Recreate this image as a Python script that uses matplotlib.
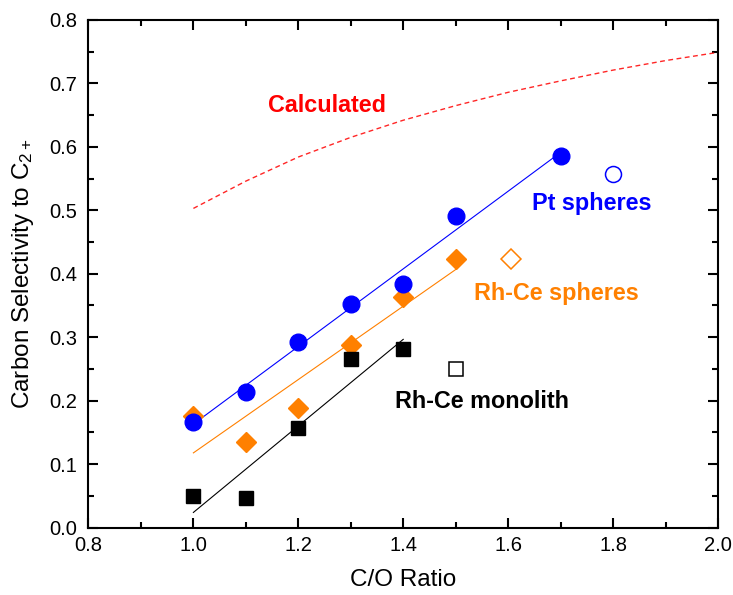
import numpy as np
import matplotlib
matplotlib.use("Agg")
import matplotlib.pyplot as plt
from matplotlib.ticker import MultipleLocator, FormatStrFormatter

plt.rcParams['font.family'] = ['Liberation Sans', 'DejaVu Sans']
plt.rcParams['mathtext.fontset'] = 'custom'
plt.rcParams['mathtext.rm'] = 'Liberation Sans'
plt.rcParams['mathtext.it'] = 'Liberation Sans:italic'

# Measured selectivities
pt_x = [1.0, 1.1, 1.2, 1.3, 1.4, 1.5, 1.7]
pt_y = [0.167, 0.214, 0.293, 0.352, 0.384, 0.491, 0.586]
pt_open_x = [1.80]
pt_open_y = [0.557]

rhce_x = [1.0, 1.1, 1.2, 1.3, 1.4, 1.5]
rhce_y = [0.176, 0.135, 0.188, 0.287, 0.363, 0.424]
rhce_open_x = [1.605]
rhce_open_y = [0.423]

mono_x = [1.0, 1.1, 1.2, 1.3, 1.4]
mono_y = [0.050, 0.047, 0.157, 0.265, 0.282]
mono_open_x = [1.50]
mono_open_y = [0.250]

# Calculated equilibrium curve
calc_x = [1.0, 1.1, 1.2, 1.3, 1.4, 1.5, 1.6, 1.7, 1.8, 1.9, 2.0]
calc_y = [0.503, 0.546, 0.584, 0.615, 0.642, 0.665, 0.686, 0.704, 0.721, 0.736, 0.749]

BLUE = '#0000FF'
ORANGE = '#FF8000'
RED = '#FF0000'
BLACK = '#000000'

fig = plt.figure(figsize=(7.33, 5.95), dpi=100)
ax = fig.add_axes([0.1207, 0.1134, 0.8588, 0.853])


def fit_line(xs, ys, color):
    k, b = np.polyfit(xs, ys, 1)
    xx = np.array([min(xs), max(xs)])
    ax.plot(xx, k * xx + b, color=color, lw=0.8, zorder=2)


fit_line(pt_x, pt_y, BLUE)
fit_line(rhce_x, rhce_y, ORANGE)
fit_line(mono_x, mono_y, BLACK)

ax.plot(calc_x, calc_y, color=RED, lw=1.0, ls=(0, (3.5, 2.5)), alpha=0.85, zorder=2)

ax.plot(rhce_x, rhce_y, 'D', color=ORANGE, ms=10.5, mec=ORANGE, zorder=3)
ax.plot(mono_x, mono_y, 's', color=BLACK, ms=10.5, zorder=3)
ax.plot(pt_x, pt_y, 'o', color=BLUE, ms=12, zorder=4)

ax.plot(pt_open_x, pt_open_y, 'o', mfc='white', mec=BLUE, mew=1.1, ms=11.5, zorder=4)
ax.plot(rhce_open_x, rhce_open_y, 'D', mfc='white', mec=ORANGE, mew=1.1, ms=10, zorder=4)
ax.plot(mono_open_x, mono_open_y, 's', mfc='white', mec=BLACK, mew=1.1, ms=10, zorder=4)

lab_fs = 16.8
ax.text(1.142, 0.6556, 'Calculated', color=RED, fontsize=lab_fs, fontweight='bold', va='baseline')
ax.text(1.645, 0.501, 'Pt spheres', color=BLUE, fontsize=lab_fs, fontweight='bold', va='baseline')
ax.text(1.534, 0.358, 'Rh-Ce spheres', color=ORANGE, fontsize=lab_fs, fontweight='bold', va='baseline')
ax.text(1.384, 0.1877, 'Rh-Ce monolith', color=BLACK, fontsize=lab_fs, fontweight='bold', va='baseline')

ax.set_xlim(0.8, 2.0)
ax.set_ylim(0.0, 0.8)
ax.xaxis.set_major_locator(MultipleLocator(0.2))
ax.xaxis.set_minor_locator(MultipleLocator(0.1))
ax.yaxis.set_major_locator(MultipleLocator(0.1))
ax.yaxis.set_minor_locator(MultipleLocator(0.05))
ax.xaxis.set_major_formatter(FormatStrFormatter('%.1f'))
ax.yaxis.set_major_formatter(FormatStrFormatter('%.1f'))

for s in ax.spines.values():
    s.set_linewidth(1.5)
ax.tick_params(which='both', direction='in', top=True, right=True, width=1.5)
ax.tick_params(which='major', length=7.5, labelsize=14.5)
ax.tick_params(axis='y', which='major', pad=8)
ax.tick_params(axis='x', which='major', pad=6)
ax.tick_params(which='minor', length=4)

ax.set_xlabel('C/O Ratio', fontsize=17.5)
ax.set_ylabel('Carbon Selectivity to C$_{2+}$', fontsize=17.5)
ax.xaxis.set_label_coords(0.5, -0.082)
ax.yaxis.set_label_coords(-0.083, 0.5)

fig.savefig('out.png', dpi=100)
